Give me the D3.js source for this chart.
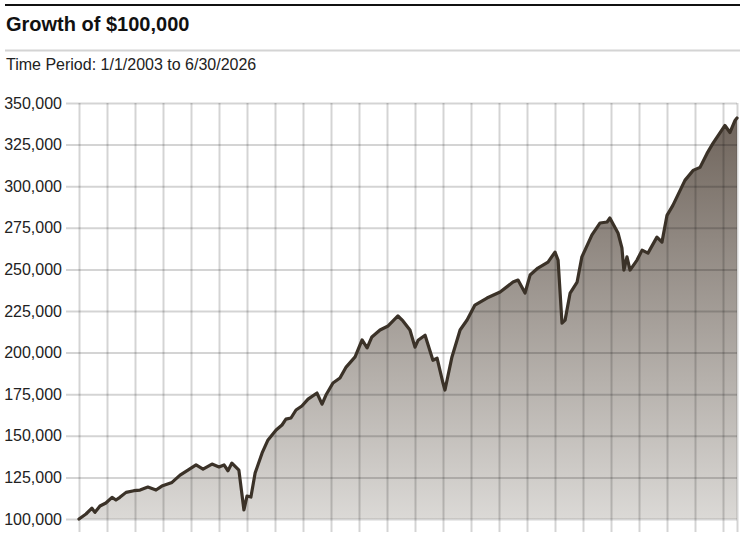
<!DOCTYPE html>
<html>
<head>
<meta charset="utf-8">
<script src="https://cdn.jsdelivr.net/npm/d3@7"></script>
<style>
  body { margin: 0; background: #fff; }
  text { font-family: "Liberation Sans Narrow", "Arial Narrow", "Liberation Sans", sans-serif; }
</style>
</head>
<body>
<svg id="chart" width="744" height="544"></svg>
<script>
// decimal year of each reading
const years = [2003.00, 2003.25, 2003.46, 2003.57, 2003.75, 2003.96, 2004.18, 2004.32, 2004.46, 2004.68,
  2004.96, 2005.18, 2005.46, 2005.75, 2005.96, 2006.32, 2006.61, 2006.89, 2007.18, 2007.43,
  2007.75, 2008.00, 2008.18, 2008.32, 2008.46, 2008.64, 2008.71, 2008.89, 2009.00, 2009.14,
  2009.29, 2009.54, 2009.75, 2010.04, 2010.25, 2010.39, 2010.57, 2010.75, 2010.96, 2011.18,
  2011.50, 2011.68, 2011.82, 2012.07, 2012.32, 2012.54, 2012.86, 2013.11, 2013.29, 2013.46,
  2013.75, 2014.04, 2014.39, 2014.57, 2014.82, 2015.00, 2015.11, 2015.36, 2015.64, 2015.79,
  2016.00, 2016.07, 2016.32, 2016.61, 2016.86, 2017.14, 2017.57, 2018.04, 2018.50, 2018.68,
  2018.93, 2019.11, 2019.39, 2019.75, 2020.00, 2020.11, 2020.25, 2020.36, 2020.54, 2020.79,
  2020.96, 2021.32, 2021.61, 2021.86, 2021.96, 2022.25, 2022.39, 2022.46, 2022.57, 2022.68,
  2022.93, 2023.11, 2023.32, 2023.64, 2023.82, 2024.00, 2024.21, 2024.64, 2024.93, 2025.18,
  2025.43, 2025.64, 2026.07, 2026.25, 2026.43, 2026.50];
// growth of $100,000 (value in dollars)
const values = [100000, 103000, 106500, 104000, 107800, 109600, 113000, 111400, 113000, 116000,
  117000, 117400, 119200, 117400, 119800, 122000, 126400, 129400, 132500, 130000,
  133000, 131300, 132500, 129000, 133600, 130600, 129400, 105400, 113800, 113200,
  127600, 139700, 147500, 153500, 156500, 160000, 160700, 165500, 167900, 172000,
  175700, 169000, 174500, 181700, 184700, 191300, 197400, 207600, 202800, 209400,
  213600, 216000, 222000, 219000, 213600, 203300, 207400, 210400, 195400, 196600,
  181700, 177500, 197400, 213600, 219600, 228600, 232800, 236400, 242400, 243600,
  235800, 246600, 250800, 254400, 260400, 255600, 217700, 219500, 235800, 242400,
  257500, 270700, 277900, 278500, 280900, 271900, 262900, 249600, 257500, 249600,
  255600, 261600, 259800, 269400, 266400, 282500, 288500, 303500, 309500, 311300,
  319700, 325700, 336500, 332300, 339500, 341000];
const yTicks = [100000, 125000, 150000, 175000, 200000, 225000, 250000, 275000, 300000, 325000, 350000];
const xTicks = d3.range(2003, 2027);
const title = "Growth of $100,000";
const subtitle = "Time Period: 1/1/2003 to 6/30/2026";

const svg = d3.select("#chart");
const mLeft = 79, mRight = 737, mTop = 103, mBottom = 519;

const x = d3.scaleLinear().domain([2003, 2026.5]).range([mLeft, mRight]);
const y = d3.scaleLinear().domain([100000, 350000]).range([mBottom, mTop]);

// header
svg.append("line").attr("x1", 5).attr("x2", 740).attr("y1", 5).attr("y2", 5)
  .attr("stroke", "#111").attr("stroke-width", 2);
svg.append("text").attr("x", 6).attr("y", 31).text(title)
  .attr("font-size", 20).attr("font-weight", "bold").attr("fill", "#111");
svg.append("line").attr("x1", 5).attr("x2", 740).attr("y1", 50.5).attr("y2", 50.5)
  .attr("stroke", "#d4d4d4").attr("stroke-width", 2);
svg.append("text").attr("x", 6).attr("y", 70).text(subtitle)
  .attr("font-size", 16).attr("fill", "#222");

// gradient fill
const grad = svg.append("defs").append("linearGradient").attr("id", "fill")
  .attr("gradientUnits", "userSpaceOnUse")
  .attr("x1", 0).attr("x2", 0).attr("y1", mTop).attr("y2", mBottom);
grad.append("stop").attr("offset", "0%").attr("stop-color", "#6b6057");
grad.append("stop").attr("offset", "100%").attr("stop-color", "#dbd9d6");

const pts = years.map((t, i) => [t, values[i]]);

svg.append("path").datum(pts)
  .attr("d", d3.area().x(d => x(d[0])).y0(mBottom).y1(d => y(d[1])))
  .attr("fill", "url(#fill)");

// grid on top of fill
const yAxis = svg.append("g").attr("transform", `translate(${mRight},0)`)
  .call(d3.axisLeft(y).tickValues(yTicks).tickSize(mRight - 66).tickFormat(d3.format(",")));
yAxis.select(".domain").remove();
yAxis.selectAll("line").attr("stroke", "rgba(0,0,0,0.17)").attr("stroke-width", 2);
yAxis.selectAll("text").attr("x", -(mRight - 62)).attr("font-size", 16).attr("fill", "#222")
  .attr("font-family", "Liberation Sans Narrow, Arial Narrow, sans-serif");

const xAxis = svg.append("g").attr("transform", `translate(0,${mTop})`)
  .call(d3.axisBottom(x).tickValues(xTicks.concat([2026.5])).tickSize(532 - mTop).tickFormat(""));
xAxis.select(".domain").remove();
xAxis.selectAll("line").attr("stroke", "rgba(0,0,0,0.17)").attr("stroke-width", 2);

svg.append("path").datum(pts)
  .attr("d", d3.line().x(d => x(d[0])).y(d => y(d[1])))
  .attr("fill", "none").attr("stroke", "#3b3228").attr("stroke-width", 3.2)
  .attr("stroke-linejoin", "round").attr("stroke-linecap", "round");
</script>
</body>
</html>
